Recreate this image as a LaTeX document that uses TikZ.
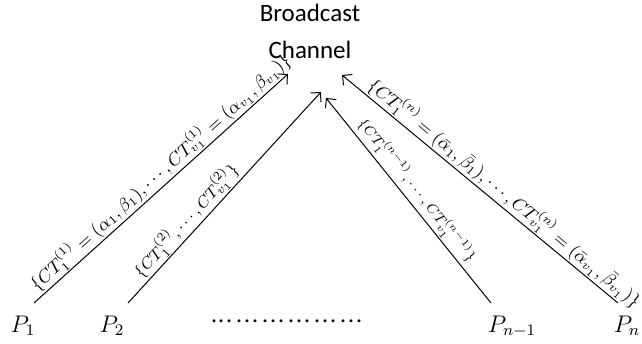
\documentclass[tikz,border=0pt]{standalone}
\usepackage{fontspec}
\newfontfamily\bcfont{Carlito}
\usetikzlibrary{arrows.meta}
\newcommand\dgrp{{\cdot}{\cdot}{\cdot}}
\begin{document}
\begin{tikzpicture}[x=0.5pt,y=-0.5pt,
  conn/.style={line width=0.5pt,-{Straight Barb[length=3.5pt,width=7pt,line width=0.5pt]}},
  party/.style={font=\large,anchor=base,inner sep=0pt},
  lbl/.style={sloped,above,inner sep=0.6pt}]
\useasboundingbox (0,0) rectangle (642,343);
\node[font=\bcfont\fontsize{12.5}{18.5}\selectfont,align=center] (bc) at (310,31) {Broadcast\\Channel};
\node[party] (p1) at (23,332) {$P_1$};
\node[party] (p2) at (112,332) {$P_2$};
\node[party] (pn1) at (512,332) {$P_{n-1}$};
\node[party] (pn) at (627,332) {$P_n$};
\node[party,font=\fontsize{14}{16}\selectfont] (dots) at (287,328) {$\dgrp\hskip1pt\dgrp\hskip1pt\dgrp\hskip1pt\dgrp\hskip1pt\dgrp\hskip1pt\dgrp$};
\coordinate (s1) at (34,303);
\coordinate (e1) at (288,74);
\coordinate (s2) at (128,303);
\coordinate (e2) at (321,92);
\coordinate (s3) at (491,303);
\coordinate (e3) at (326,98);
\coordinate (s4) at (618,303);
\coordinate (e4) at (342,75);
\draw[conn] (s1) -- node[lbl,pos=0.53,font=\fontsize{9}{11}\selectfont]{$\{CT_1^{(1)}=(\alpha_1,\beta_1),\cdots,CT_{v_1}^{(1)}=(\alpha_{v_1},\beta_{v_1})\}$} (e1);
\draw[conn] (s2) -- node[lbl,pos=0.35,font=\fontsize{8}{10}\selectfont]{$\{CT_1^{(2)},\cdots,CT_{v_1}^{(2)}\}$} (e2);
\draw[conn] (s3) -- node[lbl,pos=0.51,font=\fontsize{7.5}{9}\selectfont]{$\{CT_1^{(n-1)},\cdots,CT_{v_1}^{(n-1)}\}$} (e3);
\draw[conn] (s4) -- node[lbl,pos=0.44,font=\fontsize{9}{11}\selectfont]{$\{CT_1^{(n)}=(\bar\alpha_1,\bar\beta_1),\cdots,CT_{v_1}^{(n)}=(\bar\alpha_{v_1},\bar\beta_{v_1})\}$} (e4);
\end{tikzpicture}
\end{document}
